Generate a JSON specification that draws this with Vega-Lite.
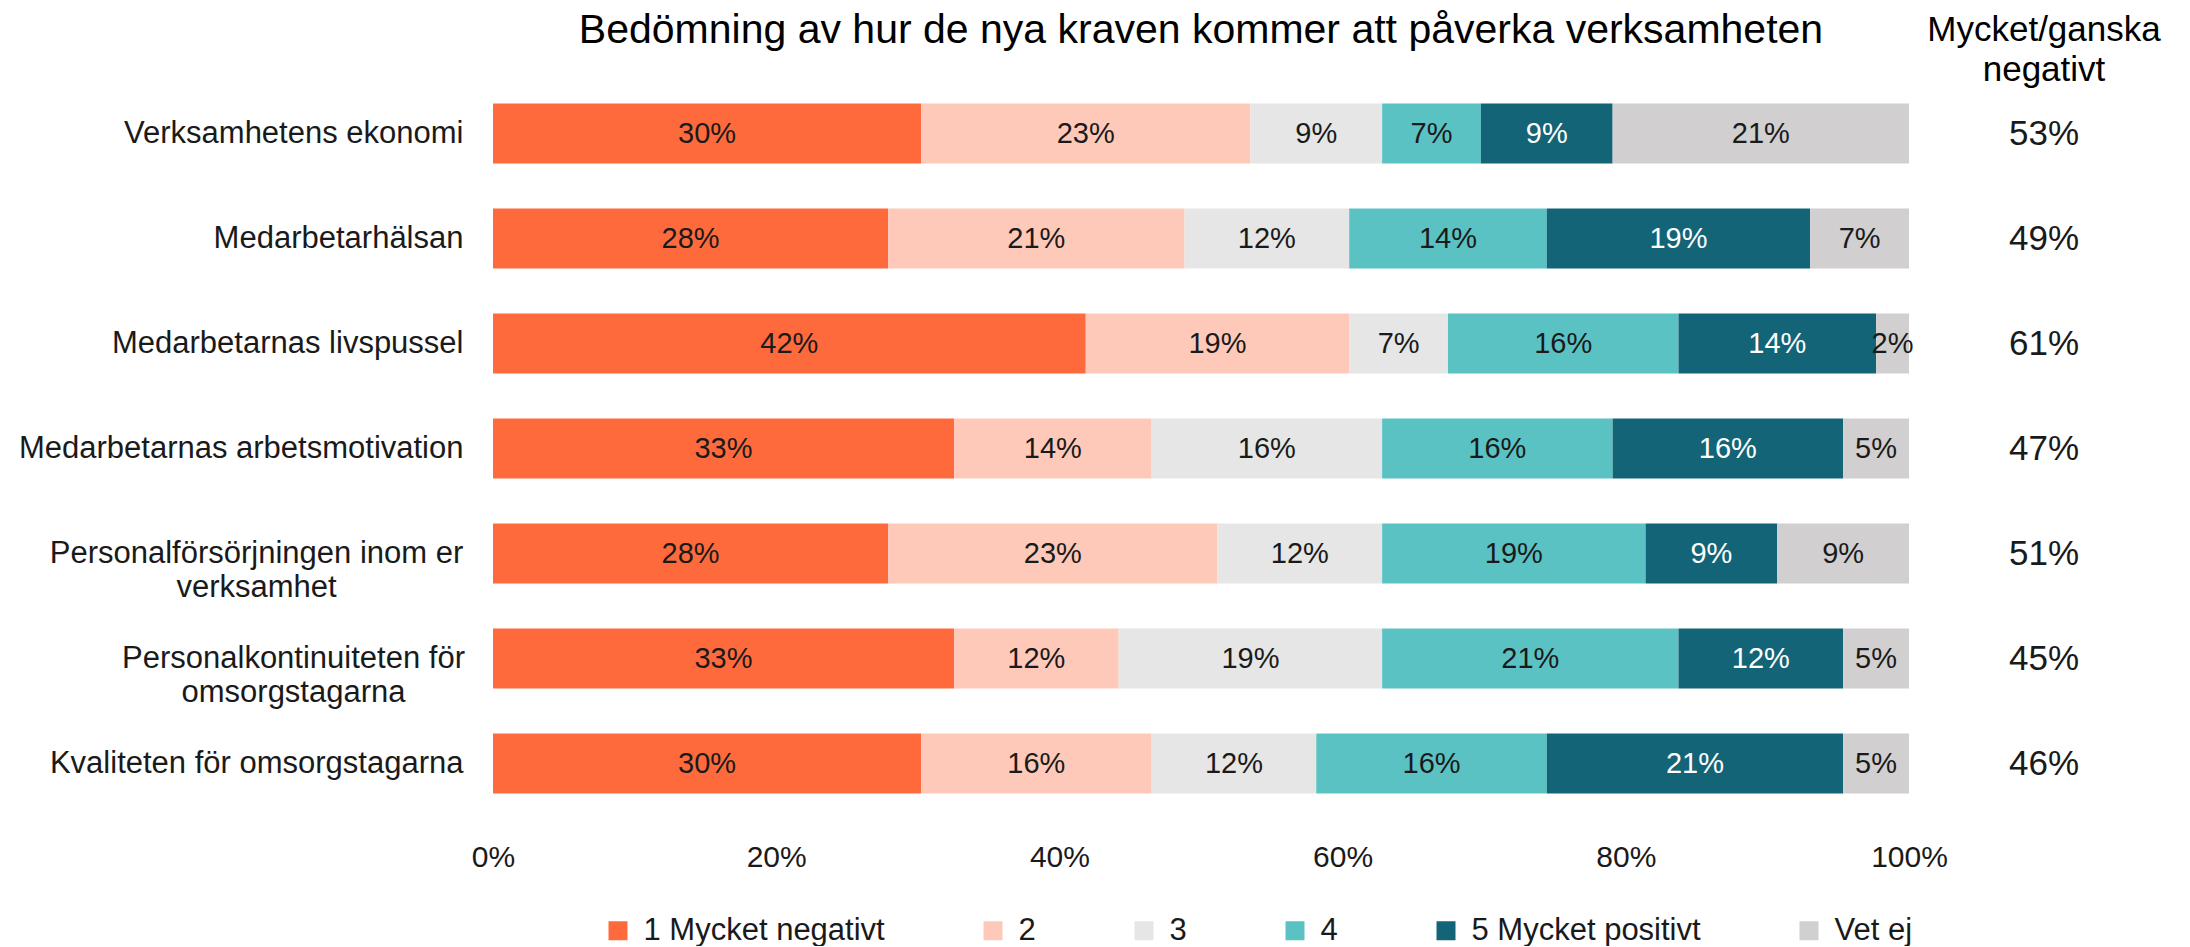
{
  "$schema": "https://vega.github.io/schema/vega-lite/v6.json",
  "background": "white",
  "padding": {"left": 17, "top": 9, "right": 0, "bottom": 0},
  "bounds": "flush",
  "spacing": 10,
  "config": {
    "font": "Liberation Sans",
    "view": {"stroke": "transparent"}
  },
  "resolve": {"scale": {"y": "shared"}, "axis": {"y": "independent"}},
  "datasets": {
    "bars": [
      {"q": "Verksamhetens ekonomi", "resp": "1 Mycket negativt", "v": 0.30233},
      {"q": "Verksamhetens ekonomi", "resp": "2", "v": 0.23256},
      {"q": "Verksamhetens ekonomi", "resp": "3", "v": 0.09302},
      {"q": "Verksamhetens ekonomi", "resp": "4", "v": 0.06977},
      {"q": "Verksamhetens ekonomi", "resp": "5 Mycket positivt", "v": 0.09302},
      {"q": "Verksamhetens ekonomi", "resp": "Vet ej", "v": 0.20930},
      {"q": "Medarbetarhälsan", "resp": "1 Mycket negativt", "v": 0.27907},
      {"q": "Medarbetarhälsan", "resp": "2", "v": 0.20930},
      {"q": "Medarbetarhälsan", "resp": "3", "v": 0.11628},
      {"q": "Medarbetarhälsan", "resp": "4", "v": 0.13953},
      {"q": "Medarbetarhälsan", "resp": "5 Mycket positivt", "v": 0.18605},
      {"q": "Medarbetarhälsan", "resp": "Vet ej", "v": 0.06977},
      {"q": "Medarbetarnas livspussel", "resp": "1 Mycket negativt", "v": 0.41860},
      {"q": "Medarbetarnas livspussel", "resp": "2", "v": 0.18605},
      {"q": "Medarbetarnas livspussel", "resp": "3", "v": 0.06977},
      {"q": "Medarbetarnas livspussel", "resp": "4", "v": 0.16279},
      {"q": "Medarbetarnas livspussel", "resp": "5 Mycket positivt", "v": 0.13953},
      {"q": "Medarbetarnas livspussel", "resp": "Vet ej", "v": 0.02326},
      {"q": "Medarbetarnas arbetsmotivation", "resp": "1 Mycket negativt", "v": 0.32558},
      {"q": "Medarbetarnas arbetsmotivation", "resp": "2", "v": 0.13953},
      {"q": "Medarbetarnas arbetsmotivation", "resp": "3", "v": 0.16279},
      {"q": "Medarbetarnas arbetsmotivation", "resp": "4", "v": 0.16279},
      {"q": "Medarbetarnas arbetsmotivation", "resp": "5 Mycket positivt", "v": 0.16279},
      {"q": "Medarbetarnas arbetsmotivation", "resp": "Vet ej", "v": 0.04651},
      {"q": "Personalförsörjningen inom er verksamhet", "resp": "1 Mycket negativt", "v": 0.27907},
      {"q": "Personalförsörjningen inom er verksamhet", "resp": "2", "v": 0.23256},
      {"q": "Personalförsörjningen inom er verksamhet", "resp": "3", "v": 0.11628},
      {"q": "Personalförsörjningen inom er verksamhet", "resp": "4", "v": 0.18605},
      {"q": "Personalförsörjningen inom er verksamhet", "resp": "5 Mycket positivt", "v": 0.09302},
      {"q": "Personalförsörjningen inom er verksamhet", "resp": "Vet ej", "v": 0.09302},
      {"q": "Personalkontinuiteten för omsorgstagarna", "resp": "1 Mycket negativt", "v": 0.32558},
      {"q": "Personalkontinuiteten för omsorgstagarna", "resp": "2", "v": 0.11628},
      {"q": "Personalkontinuiteten för omsorgstagarna", "resp": "3", "v": 0.18605},
      {"q": "Personalkontinuiteten för omsorgstagarna", "resp": "4", "v": 0.20930},
      {"q": "Personalkontinuiteten för omsorgstagarna", "resp": "5 Mycket positivt", "v": 0.11628},
      {"q": "Personalkontinuiteten för omsorgstagarna", "resp": "Vet ej", "v": 0.04651},
      {"q": "Kvaliteten för omsorgstagarna", "resp": "1 Mycket negativt", "v": 0.30233},
      {"q": "Kvaliteten för omsorgstagarna", "resp": "2", "v": 0.16279},
      {"q": "Kvaliteten för omsorgstagarna", "resp": "3", "v": 0.11628},
      {"q": "Kvaliteten för omsorgstagarna", "resp": "4", "v": 0.16279},
      {"q": "Kvaliteten för omsorgstagarna", "resp": "5 Mycket positivt", "v": 0.20930},
      {"q": "Kvaliteten för omsorgstagarna", "resp": "Vet ej", "v": 0.04651}
    ],
    "neg": [
      {"q": "Verksamhetens ekonomi", "n": 0.53},
      {"q": "Medarbetarhälsan", "n": 0.49},
      {"q": "Medarbetarnas livspussel", "n": 0.61},
      {"q": "Medarbetarnas arbetsmotivation", "n": 0.47},
      {"q": "Personalförsörjningen inom er verksamhet", "n": 0.51},
      {"q": "Personalkontinuiteten för omsorgstagarna", "n": 0.45},
      {"q": "Kvaliteten för omsorgstagarna", "n": 0.46}
    ]
  },
  "hconcat": [
    {
      "width": 1416,
      "height": 735,
      "title": {
        "text": "Bedömning av hur de nya kraven kommer att påverka verksamheten",
        "fontSize": 41,
        "fontWeight": "normal",
        "color": "#000000",
        "baseline": "bottom",
        "offset": -12,
        "anchor": "middle",
        "frame": "group"
      },
      "data": {"name": "bars"},
      "encoding": {
        "y": {
          "field": "q",
          "type": "nominal",
          "sort": null,
          "scale": {"paddingInner": 0.4286, "paddingOuter": 0.2143},
          "axis": {
            "title": null,
            "domain": false,
            "ticks": false,
            "labelFontSize": 31,
            "labelColor": "#1a1a1a",
            "labelLimit": 700,
            "labelLineHeight": 34,
            "labelPadding": {
              "condition": [
                {"test": "datum.value == 'Personalförsörjningen inom er verksamhet'", "value": 237},
                {"test": "datum.value == 'Personalkontinuiteten för omsorgstagarna'", "value": 200}
              ],
              "value": 30
            },
            "labelAlign": {
              "condition": {"test": "datum.value == 'Personalförsörjningen inom er verksamhet' || datum.value == 'Personalkontinuiteten för omsorgstagarna'", "value": "center"},
              "value": "right"
            },
            "labelExpr": "datum.value == 'Personalförsörjningen inom er verksamhet' ? ['Personalförsörjningen inom er', 'verksamhet'] : datum.value == 'Personalkontinuiteten för omsorgstagarna' ? ['Personalkontinuiteten för', 'omsorgstagarna'] : datum.label"
          }
        }
      },
      "layer": [
        {
          "mark": {"type": "bar"},
          "encoding": {
            "x": {
              "field": "v",
              "type": "quantitative",
              "stack": "zero",
              "scale": {"domain": [0, 1], "nice": false},
              "axis": {
                "title": null,
                "format": ".0%",
                "values": [0, 0.2, 0.4, 0.6, 0.8, 1],
                "domain": false,
                "ticks": false,
                "grid": false,
                "labelFontSize": 30,
                "labelPadding": 26,
                "labelColor": "#1a1a1a",
                "labelFlush": false,
                "labelOverlap": false
              }
            },
            "color": {
              "field": "resp",
              "type": "nominal",
              "scale": {
                "domain": ["1 Mycket negativt", "2", "3", "4", "5 Mycket positivt", "Vet ej"],
                "range": ["#FF6A3D", "#FFC9B9", "#E6E6E6", "#5BC2C4", "#136477", "#D1CFD0"]
              },
              "legend": {
                "orient": "none",
                "legendX": 109.5,
                "legendY": 834,
                "direction": "horizontal",
                "title": null,
                "symbolType": "square",
                "symbolSize": 361,
                "symbolStrokeWidth": 0,
                "symbolOpacity": 1,
                "labelFontSize": 31,
                "labelOffset": 10,
                "columnPadding": 92,
                "labelColor": "#1a1a1a",
                "labelLimit": 500
              }
            },
            "order": {"field": "resp", "sort": "ascending"}
          }
        },
        {
          "mark": {"type": "text", "fontSize": 29, "align": "center", "baseline": "middle"},
          "encoding": {
            "x": {"field": "v", "type": "quantitative", "stack": "zero", "bandPosition": 0.5},
            "detail": {"field": "resp"},
            "order": {"field": "resp", "sort": "ascending"},
            "text": {"field": "v", "type": "quantitative", "format": ".0%"},
            "color": {
              "condition": {"test": "datum.resp == '5 Mycket positivt'", "value": "#ffffff"},
              "value": "#1a1a1a"
            }
          }
        }
      ]
    },
    {
      "width": 250,
      "height": 735,
      "title": {
        "text": ["Mycket/ganska", "negativt"],
        "fontSize": 35,
        "lineHeight": 40,
        "fontWeight": "normal",
        "color": "#000000",
        "baseline": "bottom",
        "offset": -42,
        "anchor": "middle",
        "frame": "group"
      },
      "data": {"name": "neg"},
      "mark": {"type": "text", "fontSize": 35, "color": "#1a1a1a", "align": "center", "baseline": "middle"},
      "encoding": {
        "y": {"field": "q", "type": "nominal", "sort": null, "axis": null},
        "text": {"field": "n", "type": "quantitative", "format": ".0%"}
      }
    }
  ]
}
